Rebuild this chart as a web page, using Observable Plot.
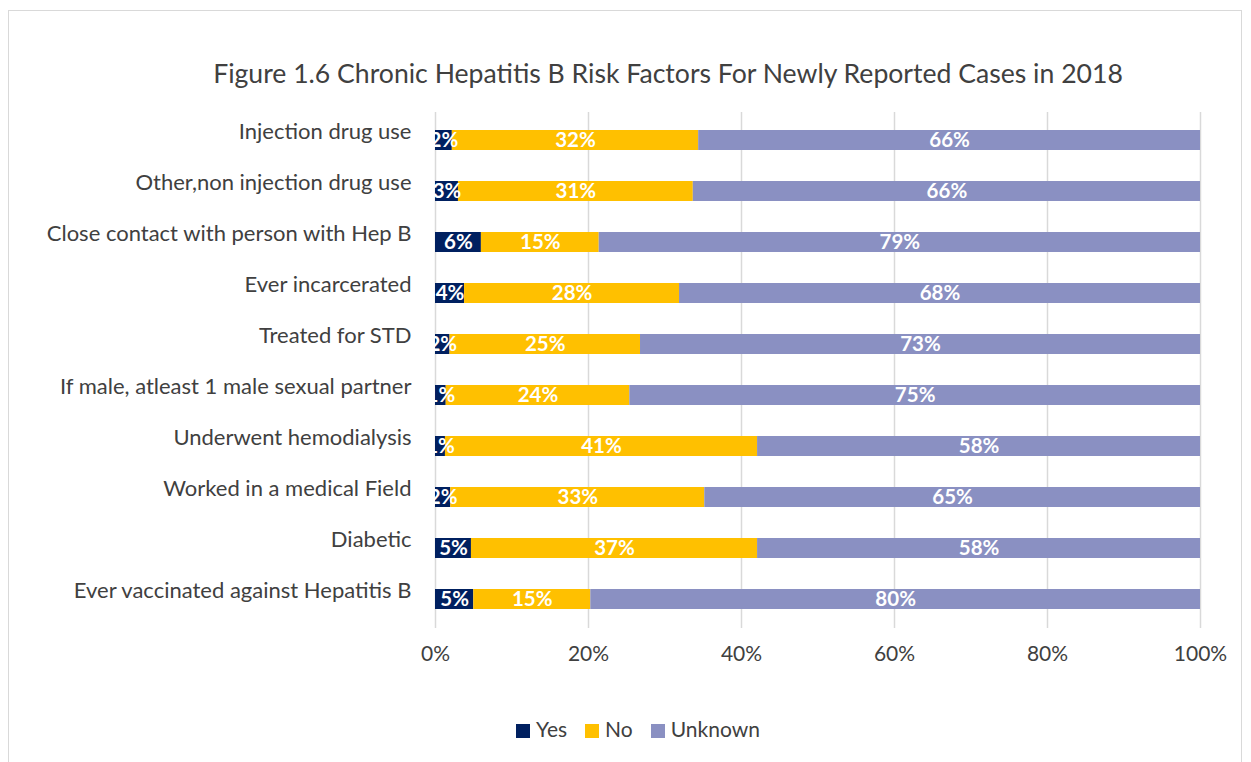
<!DOCTYPE html>
<html>
<head>
<meta charset="utf-8">
<script src="https://cdn.jsdelivr.net/npm/d3@7"></script>
<script src="https://cdn.jsdelivr.net/npm/@observablehq/plot@0.6"></script>
<style>
  html, body { margin: 0; padding: 0; background: #fff; }
  body { width: 1251px; height: 762px; position: relative; overflow: hidden; font-family: Lato, "Open Sans", sans-serif; color: #404040; }
  #frame { position: absolute; left: 8px; top: 10px; width: 1234px; height: 800px; border: 1px solid #d9d9d9; box-sizing: border-box; }
  #title { position: absolute; left: 0; width: 1336px; top: 56px; text-align: center; font-size: 26.6px; line-height: 34px; color: #404040; white-space: nowrap; }
  #chart { position: absolute; left: 0; top: 0; }
  #legend { position: absolute; top: 715px; left: 0; width: 1276px; text-align: center; font-size: 21px; line-height: 28px; color: #404040; }
  #legend span.item { display: inline-block; margin: 0 9px 0 9px; }
  #legend span.sw { display: inline-block; width: 14px; height: 14px; margin-right: 6px; vertical-align: -1px; }
</style>
</head>
<body>
<div id="frame"></div>
<div id="title">Figure 1.6 Chronic Hepatitis B Risk Factors For Newly Reported Cases in 2018</div>
<div id="chart"></div>
<div id="legend"></div>
<script>
const categories = [
  "Injection drug use",
  "Other,non injection drug use",
  "Close contact with person with Hep B",
  "Ever incarcerated",
  "Treated for STD",
  "If male, atleast 1 male sexual partner",
  "Underwent hemodialysis",
  "Worked in a medical Field",
  "Diabetic",
  "Ever vaccinated against Hepatitis B"
];
const seriesNames = ["Yes", "No", "Unknown"];
const seriesColors = ["#002060", "#FFC000", "#8A90C2"];
const yesValues = [2.2, 3.0, 6.0, 3.8, 1.9, 1.4, 1.3, 2.0, 4.7, 5.0];
const noValues = [32.2, 30.7, 15.4, 28.1, 24.9, 24.0, 40.8, 33.2, 37.4, 15.3];
const unknownValues = [65.6, 66.3, 78.6, 68.1, 73.2, 74.6, 57.9, 64.8, 57.9, 79.7];
const xTicks = [0, 20, 40, 60, 80, 100];

const seriesValues = [yesValues, noValues, unknownValues];
const data = [];
categories.forEach((c, i) => {
  seriesNames.forEach((s, j) => {
    data.push({category: c, series: s, value: seriesValues[j][i]});
  });
});

const font = "Lato, 'Open Sans', sans-serif";
const chart = Plot.plot({
  width: 1251,
  height: 690,
  marginTop: 112,
  marginBottom: 62,
  marginLeft: 435,
  marginRight: 51,
  style: {fontFamily: font, fontSize: "21px", color: "#404040", background: "transparent"},
  x: {domain: [0, 100], ticks: xTicks},
  y: {domain: categories, paddingInner: 0.6, paddingOuter: 0.3},
  color: {domain: seriesNames, range: seriesColors},
  marks: [
    Plot.gridX(xTicks, {stroke: "#d9d9d9", strokeOpacity: 1, strokeWidth: 1.5}),
    Plot.barX(data, Plot.stackX({x: "value", y: "category", z: "series", fill: "series"})),
    Plot.text(data, Plot.stackX({
      x: "value", y: "category", z: "series",
      text: d => Math.round(d.value) + "%",
      fill: "white", fontWeight: "bold", fontSize: 20.5
    })),
    Plot.axisY({tickSize: 0, tickPadding: 24, dy: -9, label: null, fill: "#404040", fontSize: 22}),
    Plot.axisX({ticks: xTicks, tickSize: 0, tickPadding: 18, tickFormat: d => d + "%", label: null, fill: "#404040", fontSize: 21})
  ]
});
document.getElementById("chart").appendChild(chart);

const legend = document.getElementById("legend");
seriesNames.forEach((s, i) => {
  const item = document.createElement("span");
  item.className = "item";
  const sw = document.createElement("span");
  sw.className = "sw";
  sw.style.background = seriesColors[i];
  item.appendChild(sw);
  item.appendChild(document.createTextNode(s));
  legend.appendChild(item);
});
</script>
</body>
</html>
